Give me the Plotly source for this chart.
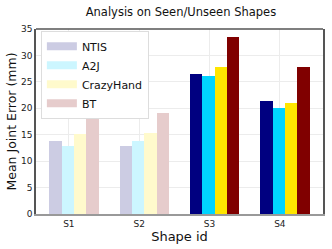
import plotly.graph_objects as go

categories = ["S1", "S2", "S3", "S4"]
methods = ["NTIS", "A2J", "CrazyHand", "BT"]
values = {
    "NTIS":      [13.8, 12.9, 26.4, 21.3],
    "A2J":       [12.9, 13.8, 26.2, 20.0],
    "CrazyHand": [15.1, 15.4, 27.8, 21.0],
    "BT":        [22.0, 19.2, 33.5, 27.9],
}
seen_flags = [True, True, False, False]  # seen shapes drawn faded

full_colors = {"NTIS": "#000080", "A2J": "#00d4ff", "CrazyHand": "#ffe600", "BT": "#800000"}
faded_colors = {"NTIS": "#ccccE3", "A2J": "#ccf6ff", "CrazyHand": "#fffacc", "BT": "#e6cccc"}

bar_w = 0.175
group_pos = list(range(len(categories)))
tick_pos = [p - 0.073 for p in group_pos]

fig = go.Figure()
for j, m in enumerate(methods):
    off = (j - 1.5) * bar_w
    xs = [p + off for p in group_pos]
    cols = [faded_colors[m] if s else full_colors[m] for s in seen_flags]
    fig.add_trace(go.Bar(x=xs, y=values[m], width=bar_w, marker=dict(color=cols, line=dict(width=0)),
                         name=m, showlegend=False))
    # legend entry (faded swatch)
    fig.add_trace(go.Scatter(x=[None], y=[None], mode="lines", name=m,
                             line=dict(color=faded_colors[m], width=8)))

font = "DejaVu Sans, Arial, sans-serif"
fig.update_layout(
    width=332, height=249,
    margin=dict(l=36, r=7, t=29, b=33),
    paper_bgcolor="white", plot_bgcolor="white",
    font=dict(family=font, color="#222", size=9),
    title=dict(text="Analysis on Seen/Unseen Shapes", x=0.545, xanchor="center", y=0.952, yanchor="middle",
               font=dict(size=11.5, family=font, color="#111")),
    bargap=0,
    legend=dict(x=0.017, y=0.99, xanchor="left", yanchor="top", bgcolor="white",
                bordercolor="#dddddd", borderwidth=1, font=dict(size=11, family=font, color="#111"),
                itemwidth=30, tracegroupgap=0),
    showlegend=True,
)
fig.update_xaxes(range=[-0.54, 3.54], tickmode="array", tickvals=tick_pos, ticktext=categories,
                 showgrid=True, gridcolor="#ececec", gridwidth=1, zeroline=False,
                 showline=True, linecolor="#999999", linewidth=2, mirror=False,
                 ticks="", tickfont=dict(size=9),
                 title=dict(text="Shape id", font=dict(size=13, family=font, color="#111"), standoff=4))
fig.update_yaxes(range=[0, 35], tickmode="array", tickvals=[0, 5, 10, 15, 20, 25, 30, 35],
                 showgrid=True, gridcolor="#ececec", gridwidth=1, zeroline=False,
                 showline=True, linecolor="#555555", linewidth=1.5, mirror=True,
                 ticks="", tickfont=dict(size=9),
                 title=dict(text="Mean Joint Error (mm)", font=dict(size=12.5, family=font, color="#111"), standoff=2))
fig.add_shape(type="line", xref="paper", yref="paper", x0=0, x1=1, y0=1, y1=1,
              line=dict(color="#555555", width=1.5))

fig.write_html("out.html", config={"displayModeBar": False},
               post_script="document.body.style.margin='0px';")
